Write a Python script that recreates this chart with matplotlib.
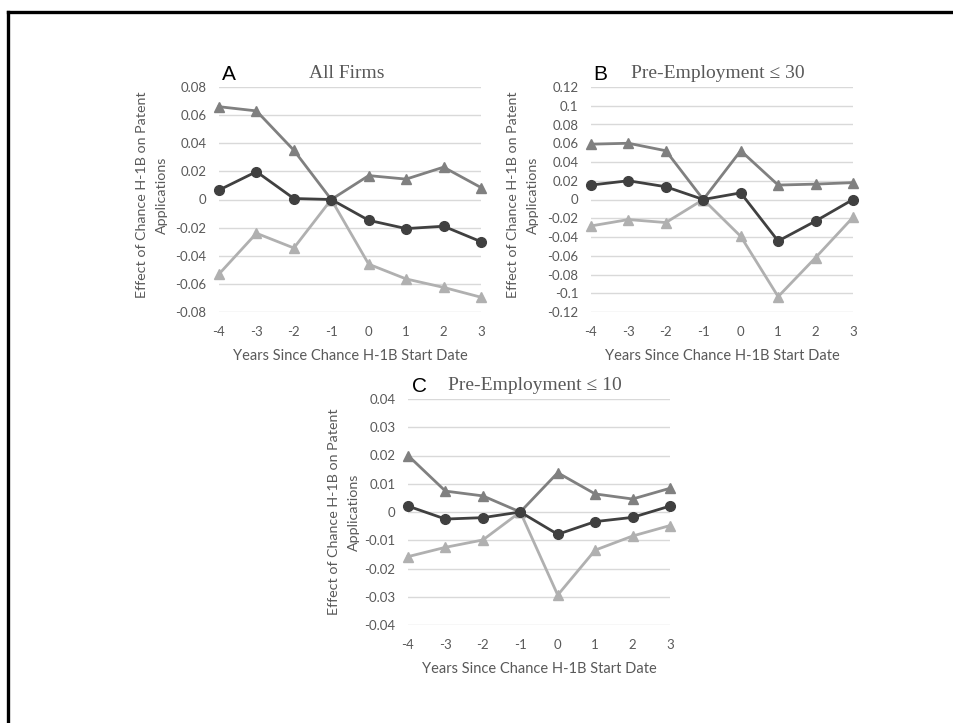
import matplotlib
matplotlib.use("Agg")
import matplotlib.pyplot as plt
from matplotlib.lines import Line2D

years = [-4, -3, -2, -1, 0, 1, 2, 3]
xtick_labels = ["-4", "-3", "-2", "-1", "0", "1", "2", "3"]

a_upper = [0.066, 0.063, 0.035, 0.0, 0.017, 0.0145, 0.023, 0.0085]
a_est = [0.0067, 0.0198, 0.0007, 0.0, -0.0148, -0.0207, -0.019, -0.030]
a_lower = [-0.053, -0.024, -0.0345, 0.0, -0.046, -0.0565, -0.0625, -0.0695]

b_upper = [0.059, 0.060, 0.052, 0.0, 0.052, 0.0154, 0.0164, 0.018]
b_est = [0.0154, 0.020, 0.0136, 0.0, 0.0071, -0.0443, -0.023, 0.0]
b_lower = [-0.0282, -0.0214, -0.0246, 0.0, -0.0393, -0.1036, -0.062, -0.019]

c_upper = [0.020, 0.0074, 0.0057, 0.0, 0.0139, 0.0064, 0.0046, 0.0084]
c_est = [0.0021, -0.0025, -0.002, 0.0, -0.0079, -0.0034, -0.0019, 0.0021]
c_lower = [-0.0158, -0.0125, -0.0099, 0.0, -0.0294, -0.0135, -0.0085, -0.0048]

a_yticks = [0.08, 0.06, 0.04, 0.02, 0.0, -0.02, -0.04, -0.06, -0.08]
a_ylabels = ["0.08", "0.06", "0.04", "0.02", "0", "-0.02", "-0.04", "-0.06", "-0.08"]
b_yticks = [0.12, 0.10, 0.08, 0.06, 0.04, 0.02, 0.0, -0.02, -0.04, -0.06, -0.08, -0.10, -0.12]
b_ylabels = ["0.12", "0.1", "0.08", "0.06", "0.04", "0.02", "0", "-0.02", "-0.04",
             "-0.06", "-0.08", "-0.1", "-0.12"]
c_yticks = [0.04, 0.03, 0.02, 0.01, 0.0, -0.01, -0.02, -0.03, -0.04]
c_ylabels = ["0.04", "0.03", "0.02", "0.01", "0", "-0.01", "-0.02", "-0.03", "-0.04"]

letters = ["A", "B", "C"]
titles = ["All Firms", "Pre-Employment \u2264 30", "Pre-Employment \u2264 10"]
xlabel = "Years Since Chance H-1B Start Date"
ylabel = "Effect of Chance H-1B on Patent\nApplications"

W, H = 954, 723
fig = plt.figure(figsize=(W / 100, H / 100), dpi=100)

SANS = ["Lato", "DejaVu Sans"]
SERIF = ["Liberation Serif", "DejaVu Serif"]
TXT = "#595959"

def fx(px):
    return px / W

def fy(py):
    return 1 - py / H

def panel(left, top, bottom, upper, est, lower, yt, yl, letter, title, ylab_x, ylab_y,
          letter_xy, title_xy):
    ax = fig.add_axes([fx(left), fy(bottom), fx(262), fy(top) - fy(bottom)])
    ax.set_xlim(-4, 3)
    ax.set_ylim(yt[-1], yt[0])
    ax.set_yticks(yt)
    ax.set_yticklabels(yl, fontfamily=SANS, fontsize=9.5, color=TXT)
    ax.set_xticks(years)
    ax.set_xticklabels(xtick_labels, fontfamily=SANS, fontsize=9.5, color=TXT)
    ax.tick_params(length=0, pad=9)
    ax.tick_params(axis="x", pad=10)
    for s in ax.spines.values():
        s.set_visible(False)
    ax.grid(axis="y", color="#d9d9d9", lw=1.0)
    ax.set_axisbelow(True)
    ax.plot(years, upper, color="#808080", lw=2.0, marker="^", ms=7.5, clip_on=False, zorder=3)
    ax.plot(years, lower, color="#b0b0b0", lw=2.0, marker="^", ms=7.5, clip_on=False, zorder=3)
    ax.plot(years, est, color="#404040", lw=2.0, marker="o", ms=7, clip_on=False, zorder=4)
    ax.set_xlabel(xlabel, fontfamily=SANS, fontsize=10.5, color=TXT, labelpad=8)
    fig.text(fx(ylab_x), fy(ylab_y), ylabel, rotation=90, ha="center", va="center",
             multialignment="center", fontfamily=SANS, fontsize=10.3, color=TXT,
             linespacing=1.75)
    fig.text(fx(letter_xy[0]), fy(letter_xy[1]), letter, ha="left", va="center",
             fontfamily=["Liberation Sans", "DejaVu Sans"], fontsize=15, color="black")
    fig.text(fx(title_xy[0]), fy(title_xy[1]), title, ha="left", va="center",
             fontfamily=SERIF, fontsize=14, color=TXT)
    return ax

panel(219, 87, 312, a_upper, a_est, a_lower, a_yticks, a_ylabels, letters[0], titles[0],
      152, 195, (222, 75), (309, 74))
panel(591, 87, 312, b_upper, b_est, b_lower, b_yticks, b_ylabels, letters[1], titles[1],
      523, 195, (593, 75), (631, 74))
panel(408, 399, 625, c_upper, c_est, c_lower, c_yticks, c_ylabels, letters[2], titles[2],
      344, 512, (412, 387), (448, 386))

# outer frame (top and left edges)
fig.add_artist(Line2D([fx(8), 1.0], [fy(11.5), fy(11.5)], color="black", lw=2.4,
                      transform=fig.transFigure))
fig.add_artist(Line2D([fx(8), fx(8)], [fy(11.5), 0.0], color="black", lw=2.4,
                      transform=fig.transFigure))

fig.savefig("out.png", dpi=100)
